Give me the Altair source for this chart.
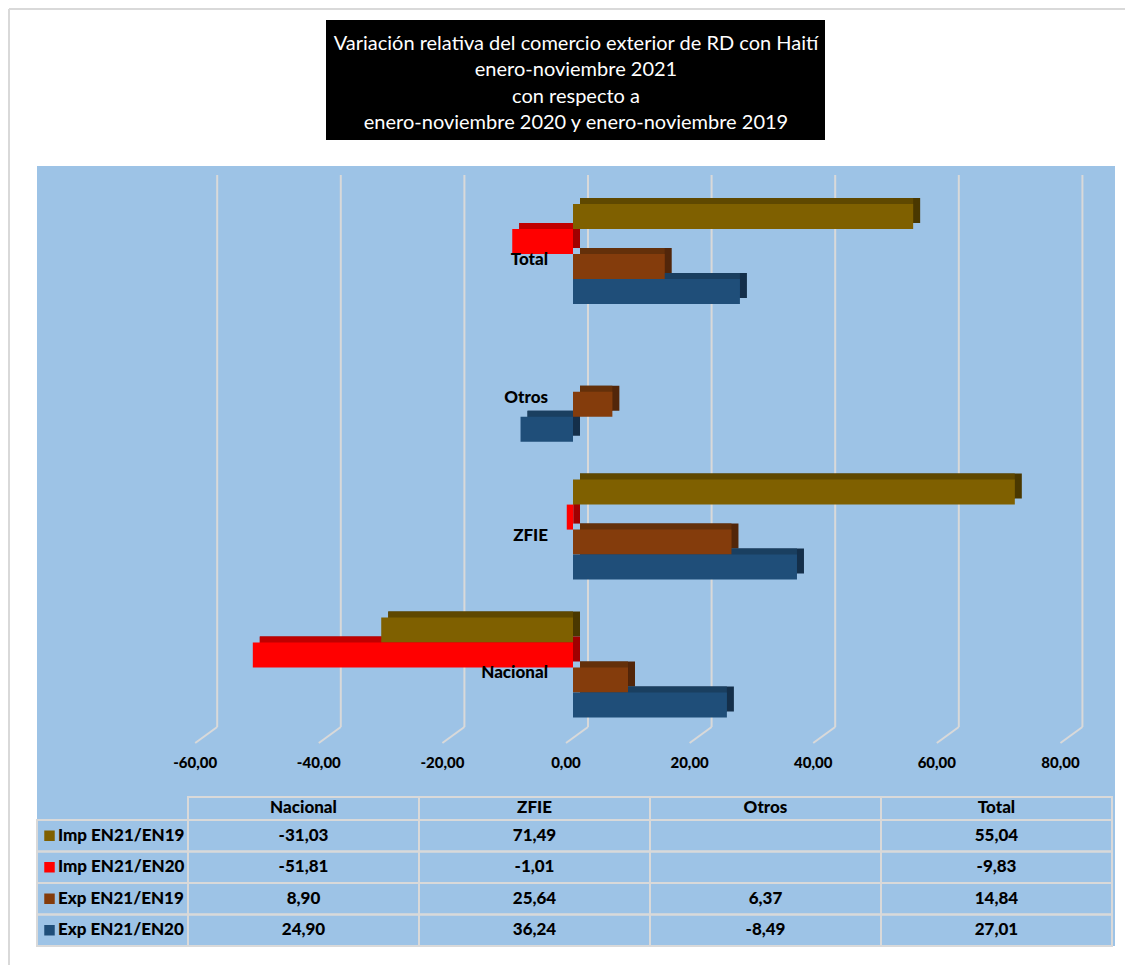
import altair as alt
import pandas as pd

# ---------------- data ----------------
categories = ["Nacional", "ZFIE", "Otros", "Total"]
series = ["Imp EN21/EN19", "Imp EN21/EN20", "Exp EN21/EN19", "Exp EN21/EN20"]
imp_en21_en19 = [-31.03, 71.49, None, 55.04]
imp_en21_en20 = [-51.81, -1.01, None, -9.83]
exp_en21_en19 = [8.90, 25.64, 6.37, 14.84]
exp_en21_en20 = [24.90, 36.24, -8.49, 27.01]
tick_values = [-60, -40, -20, 0, 20, 40, 60, 80]
title_lines = [
    "Variación relativa del comercio exterior de RD con Haití",
    "enero-noviembre 2021",
    "con respecto a",
    "enero-noviembre 2020 y enero-noviembre 2019",
]

# ---------------- styles ----------------
front_colors = ["#7F6000", "#FF0000", "#843C0C", "#1F4E79"]
top_colors = ["#5F4800", "#C00000", "#64300A", "#1A3F60"]
side_colors = ["#4A3800", "#A00000", "#52260A", "#142F4A"]
BG = "#9DC3E6"
GRID = "#D9D9D9"
FONT = "Lato"
BOLD = 900
W = 1078
FMT = "replace(replace(format(datum.value, '.2f'), '.', ','), '\u2212', '-')"

all_values = [imp_en21_en19, imp_en21_en20, exp_en21_en19, exp_en21_en20]
rows = []
for s, vals in zip(series, all_values):
    for c, v in zip(categories, vals):
        if v is not None:
            rows.append({"category": c, "series": s, "value": v})
bars_df = pd.DataFrame(rows)

cat_top_down = categories[::-1]

# ---------------- bar chart ----------------
xscale = alt.Scale(domain=[-86.73, 87.70], nice=False, zero=False)
yscale = alt.Scale(domain=cat_top_down, paddingInner=0.274, paddingOuter=0.4265,
                   align=0.323, round=False)


def bar_layer(colors, yrange=None, xoff=0, x2off=0):
    if yrange is not None:
        yo = alt.Scale(domain=series, paddingInner=0, paddingOuter=0, range=yrange)
    else:
        yo = alt.Scale(domain=series, paddingInner=0, paddingOuter=0)
    return (
        alt.Chart(bars_df)
        .transform_calculate(lo="min(datum.value, 0)", hi="max(datum.value, 0)")
        .mark_bar(xOffset=xoff, x2Offset=x2off)
        .encode(
            x=alt.X("lo:Q", scale=xscale, axis=None),
            x2="hi:Q",
            y=alt.Y("category:N", scale=yscale, axis=None),
            yOffset=alt.YOffset("series:N", scale=yo),
            color=alt.Color("series:N", scale=alt.Scale(domain=series, range=colors), legend=None),
        )
    )


grid_df = pd.DataFrame({"tick": tick_values})

vgrid = alt.Chart(grid_df).mark_rule(color=GRID, strokeWidth=2, xOffset=15).encode(
    x=alt.X("tick:Q", scale=xscale, axis=None),
    y=alt.value(9),
    y2=alt.value(561),
)

diag = alt.Chart(grid_df).mark_rule(color=GRID, strokeWidth=2, xOffset=15, x2Offset=-7).encode(
    x=alt.X("tick:Q", scale=xscale, axis=None),
    x2="tick:Q",
    y=alt.value(561),
    y2=alt.value(577),
)

tick_text = alt.Chart(grid_df).transform_calculate(
    value="datum.tick"
).transform_calculate(lab=FMT).mark_text(
    font=FONT, fontWeight=BOLD, fontSize=15, color="black", baseline="middle", dx=-7
).encode(
    x=alt.X("tick:Q", scale=xscale, axis=None),
    y=alt.value(597),
    text="lab:N",
)

side = bar_layer(side_colors, yrange=[-6, 94], xoff=7, x2off=7)
top = bar_layer(top_colors, yrange=[-6, 94], xoff=7, x2off=0)
front = bar_layer(front_colors)

labels = alt.Chart(pd.DataFrame({"category": categories})).mark_text(
    align="right", baseline="middle", dx=-25, dy=6, font=FONT, fontWeight=BOLD,
    fontSize=17, color="black",
).encode(
    x=alt.datum(0, scale=xscale),
    y=alt.Y("category:N", scale=yscale, axis=None),
    text="category:N",
)

bars = (
    alt.layer(vgrid, diag, tick_text, side, top, front, labels)
    .resolve_scale(color="independent", yOffset="independent")
    .properties(width=W, height=631, view=alt.ViewBackground(fill=BG, stroke=None))
)

# ---------------- table ----------------
LBL_X = -0.6537
HDR_Y = -0.73
tx = alt.Scale(domain=[LBL_X, 4.013], nice=False, zero=False)
ty = alt.Scale(domain=[HDR_Y, 4.0], nice=False, zero=False, reverse=True)

cells = []
for i, c in enumerate(categories):
    cells.append({"x0": i, "x1": i + 1, "y0": HDR_Y, "y1": 0})
for r, s in enumerate(series):
    cells.append({"x0": LBL_X, "x1": 0, "y0": r, "y1": r + 1})
    for i, c in enumerate(categories):
        cells.append({"x0": i, "x1": i + 1, "y0": r, "y1": r + 1})
cells_df = pd.DataFrame(cells)

cell_layer = alt.Chart(cells_df).mark_rect(fillOpacity=0, stroke=GRID, strokeWidth=2).encode(
    x=alt.X("x0:Q", scale=tx, axis=None), x2="x1:Q",
    y=alt.Y("y0:Q", scale=ty, axis=None), y2="y1:Q",
)

trows = []
for r, (s, vals) in enumerate(zip(series, all_values)):
    for i, (c, v) in enumerate(zip(categories, vals)):
        if v is not None:
            trows.append({"row": r, "col": i, "value": v})
tvals_df = pd.DataFrame(trows)

val_text = alt.Chart(tvals_df).transform_calculate(
    xc="datum.col + 0.5", yc="datum.row + 0.5", label=FMT,
).mark_text(font=FONT, fontWeight=BOLD, fontSize=17, color="black", baseline="middle").encode(
    x=alt.X("xc:Q", scale=tx, axis=None),
    y=alt.Y("yc:Q", scale=ty, axis=None),
    text="label:N",
)

hdr_df = pd.DataFrame({"category": categories, "col": list(range(len(categories)))})
hdr_text = alt.Chart(hdr_df).transform_calculate(
    xc="datum.col + 0.5", yc=f"{HDR_Y} / 2",
).mark_text(font=FONT, fontWeight=BOLD, fontSize=17, color="black", baseline="middle").encode(
    x=alt.X("xc:Q", scale=tx, axis=None),
    y=alt.Y("yc:Q", scale=ty, axis=None),
    text="category:N",
)

leg_df = pd.DataFrame({"series": series, "row": list(range(len(series)))})
leg_sq = alt.Chart(leg_df).transform_calculate(yc="datum.row + 0.5").mark_square(
    size=110, opacity=1, xOffset=12.5
).encode(
    x=alt.datum(LBL_X, scale=tx),
    y=alt.Y("yc:Q", scale=ty, axis=None),
    color=alt.Color("series:N", scale=alt.Scale(domain=series, range=front_colors), legend=None),
)
leg_text = alt.Chart(leg_df).transform_calculate(yc="datum.row + 0.5").mark_text(
    align="left", baseline="middle", dx=21, font=FONT, fontWeight=BOLD, fontSize=17, color="black"
).encode(
    x=alt.datum(LBL_X, scale=tx),
    y=alt.Y("yc:Q", scale=ty, axis=None),
    text="series:N",
)

table = alt.layer(cell_layer, val_text, hdr_text, leg_sq, leg_text).properties(
    width=W, height=149, view=alt.ViewBackground(fill=BG, stroke=None)
)

# ---------------- title ----------------
title_df = pd.DataFrame({"line": title_lines, "i": list(range(len(title_lines)))})
title_box = alt.Chart(title_df.head(1)).mark_rect(color="black").encode(
    x=alt.value(289), x2=alt.value(788), y=alt.value(0), y2=alt.value(120)
)
frame_left = alt.Chart(title_df.head(1)).mark_rule(color=GRID, strokeWidth=2).encode(
    x=alt.value(-28), y=alt.value(-11), y2=alt.value(945)
)
frame_top = alt.Chart(title_df.head(1)).mark_rule(color=GRID, strokeWidth=2).encode(
    x=alt.value(-28), x2=alt.value(1088), y=alt.value(-11)
)
title_text = alt.Chart(title_df).mark_text(
    color="white", fontSize=20, font=FONT, baseline="middle"
).encode(
    x=alt.value(W / 2),
    y=alt.Y("i:Q", axis=None,
            scale=alt.Scale(domain=[0, 3], range=[24, 103], nice=False, zero=False)),
    text="line:N",
)
title = alt.layer(frame_left, frame_top, title_box, title_text).properties(
    width=W, height=146, view=alt.ViewBackground(fill="white", stroke=None)
)

chart = (
    alt.vconcat(title, bars, table, spacing=0, bounds="flush")
    .properties(padding={"left": 0, "top": 0, "right": 0, "bottom": 5})
    .configure(font=FONT, background="white")
    .configure_view(stroke=None)
)

chart.save("out.html", embed_options={"renderer": "svg", "actions": False})
